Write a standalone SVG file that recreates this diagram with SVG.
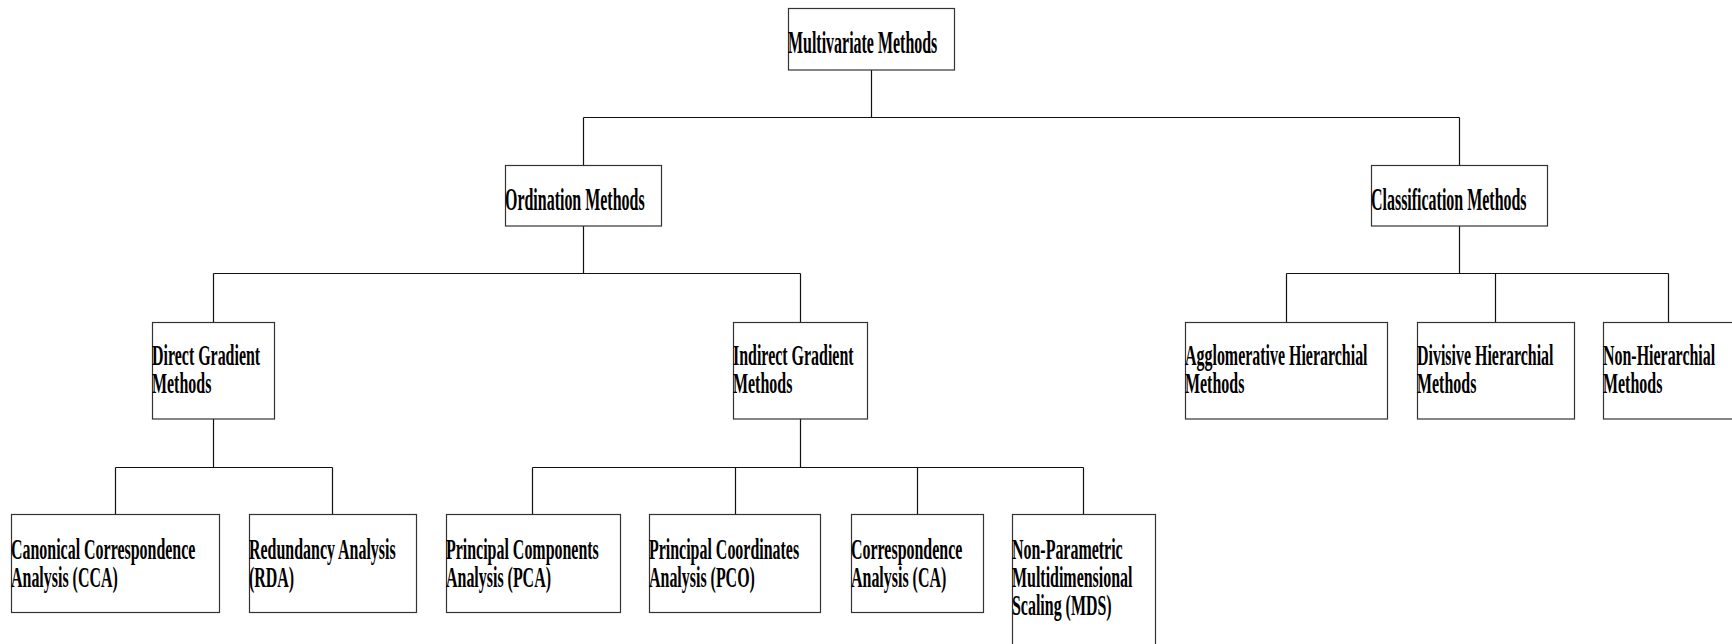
<svg xmlns="http://www.w3.org/2000/svg" width="1732" height="644" viewBox="0 0 1732 644">
<style>
.box{fill:#fff;stroke:#333;stroke-width:1.2}
.t{font-family:"Liberation Serif","Times New Roman",serif;font-weight:bold;font-size:31px;fill:#000}
.m{font-size:29px}
.c{fill:none;stroke:#111;stroke-width:1.2}
</style>
<rect width="1732" height="644" fill="#fff"/>
<g id="connectors">
<path class="c" d="M871.5 70V117.5M583.5 117.5H1459.5M583.5 117.5V165M1459.5 117.5V165"/>
<path class="c" d="M583.5 226V273.5M213.5 273.5H800.5M213.5 273.5V322M800.5 273.5V322"/>
<path class="c" d="M1459.5 226V273.5M1286.5 273.5H1668.5M1286.5 273.5V322M1495.5 273.5V322M1668.5 273.5V322"/>
<path class="c" d="M213.5 419V467.5M115.5 467.5H332.5M115.5 467.5V514M332.5 467.5V514"/>
<path class="c" d="M800.5 419V467.5M532.5 467.5H1083.5M532.5 467.5V514M735.5 467.5V514M917.5 467.5V514M1083.5 467.5V514"/>
</g>
<g id="multivariate">
<rect class="box" x="788.5" y="8.5" width="166" height="61.5"/>
<text class="t" transform="translate(788 53) scale(0.515 1)">Multivariate Methods</text>
</g>
<g id="ordination">
<rect class="box" x="505.5" y="165.5" width="156" height="60.5"/>
<text class="t" transform="translate(505 210) scale(0.515 1)">Ordination Methods</text>
</g>
<g id="classification">
<rect class="box" x="1371.5" y="165.5" width="176" height="60.5"/>
<text class="t" transform="translate(1371 210) scale(0.515 1)">Classification Methods</text>
</g>
<g id="direct">
<rect class="box" x="152.5" y="322.5" width="122" height="96.5"/>
<text class="t m" transform="translate(152 365) scale(0.55 1)"><tspan x="0" y="0">Direct Gradient</tspan><tspan x="0" y="28">Methods</tspan></text>
</g>
<g id="indirect">
<rect class="box" x="733.5" y="322.5" width="134" height="96.5"/>
<text class="t m" transform="translate(733 365) scale(0.55 1)"><tspan x="0" y="0">Indirect Gradient</tspan><tspan x="0" y="28">Methods</tspan></text>
</g>
<g id="agglomerative">
<rect class="box" x="1185.5" y="322.5" width="202" height="96.5"/>
<text class="t m" transform="translate(1185 365) scale(0.55 1)"><tspan x="0" y="0">Agglomerative Hierarchial</tspan><tspan x="0" y="28">Methods</tspan></text>
</g>
<g id="divisive">
<rect class="box" x="1417.5" y="322.5" width="157" height="96.5"/>
<text class="t m" transform="translate(1417 365) scale(0.55 1)"><tspan x="0" y="0">Divisive Hierarchial</tspan><tspan x="0" y="28">Methods</tspan></text>
</g>
<g id="nonhierarchial">
<rect class="box" x="1603.5" y="322.5" width="140" height="96.5"/>
<text class="t m" transform="translate(1603 365) scale(0.55 1)"><tspan x="0" y="0">Non-Hierarchial</tspan><tspan x="0" y="28">Methods</tspan></text>
</g>
<g id="cca">
<rect class="box" x="11.5" y="514.5" width="208" height="98"/>
<text class="t m" transform="translate(11 559) scale(0.55 1)"><tspan x="0" y="0">Canonical Correspondence</tspan><tspan x="0" y="28">Analysis (CCA)</tspan></text>
</g>
<g id="rda">
<rect class="box" x="249.5" y="514.5" width="167" height="98"/>
<text class="t m" transform="translate(249 559) scale(0.55 1)"><tspan x="0" y="0">Redundancy Analysis</tspan><tspan x="0" y="28">(RDA)</tspan></text>
</g>
<g id="pca">
<rect class="box" x="446.5" y="514.5" width="174" height="98"/>
<text class="t m" transform="translate(446 559) scale(0.55 1)"><tspan x="0" y="0">Principal Components</tspan><tspan x="0" y="28">Analysis (PCA)</tspan></text>
</g>
<g id="pco">
<rect class="box" x="649.5" y="514.5" width="171" height="98"/>
<text class="t m" transform="translate(649 559) scale(0.55 1)"><tspan x="0" y="0">Principal Coordinates</tspan><tspan x="0" y="28">Analysis (PCO)</tspan></text>
</g>
<g id="ca">
<rect class="box" x="851.5" y="514.5" width="132" height="98"/>
<text class="t m" transform="translate(851 559) scale(0.55 1)"><tspan x="0" y="0">Correspondence</tspan><tspan x="0" y="28">Analysis (CA)</tspan></text>
</g>
<g id="mds">
<rect class="box" x="1012.5" y="514.5" width="143" height="150"/>
<text class="t m" transform="translate(1012 559) scale(0.55 1)"><tspan x="0" y="0">Non-Parametric</tspan><tspan x="0" y="28">Multidimensional</tspan><tspan x="0" y="56">Scaling (MDS)</tspan></text>
</g>
</svg>
